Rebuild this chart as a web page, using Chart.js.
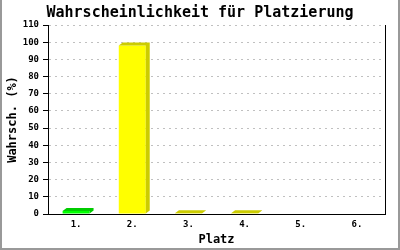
<!DOCTYPE html>
<html><head><meta charset="utf-8">
<script src="https://cdn.jsdelivr.net/npm/chart.js@4/dist/chart.umd.min.js"></script>
<style>html,body{margin:0;padding:0;background:#fff;overflow:hidden}</style>
</head><body>
<canvas id="c" width="400" height="250" style="display:block;width:400px;height:250px"></canvas>
<script>
const chartTitle = 'Wahrscheinlichkeit für Platzierung';
const xTitle = 'Platz';
const yTitle = 'Wahrsch. (%)';
const categories = ['1.', '2.', '3.', '4.', '5.', '6.'];
const probabilities = [1.8, 98, 0.4, 0.4, 0, 0];
const frontColors = ['#00ff00', '#ffff00', '#ffff00', '#ffff00', '#ffff00', '#ffff00'];
const depthColors = ['#00cc00', '#cccc00', '#cccc00', '#cccc00', '#cccc00', '#cccc00'];
const yMin = 0, yMax = 110, yStep = 10;

const MONO = '"DejaVu Sans Mono", "Liberation Mono", monospace';

const frame = {
  id: 'frame',
  beforeDraw(chart) {
    const ctx = chart.ctx;
    ctx.save();
    ctx.fillStyle = '#ffffff';
    ctx.fillRect(0, 0, chart.width, chart.height);
    ctx.restore();
  },
  afterDraw(chart) {
    const ctx = chart.ctx, a = chart.chartArea;
    ctx.save();
    // right plot edge
    ctx.strokeStyle = '#000';
    ctx.lineWidth = 1;
    ctx.beginPath();
    ctx.moveTo(Math.round(a.right) + 0.5, a.top);
    ctx.lineTo(Math.round(a.right) + 0.5, a.bottom + 0.5);
    ctx.stroke();
    // outer frame (left, right, bottom)
    ctx.strokeStyle = '#999999';
    ctx.lineWidth = 2;
    ctx.beginPath();
    ctx.moveTo(1, 0);
    ctx.lineTo(1, chart.height - 1);
    ctx.lineTo(chart.width - 1, chart.height - 1);
    ctx.lineTo(chart.width - 1, 0);
    ctx.stroke();
    // title
    ctx.fillStyle = '#000';
    ctx.font = 'bold 15px ' + MONO;
    ctx.textAlign = 'center';
    ctx.textBaseline = 'middle';
    ctx.fillText(chartTitle, chart.width / 2, 13);
    ctx.restore();
  }
};

const bars3d = {
  id: 'bars3d',
  afterDatasetsDraw(chart) {
    const ctx = chart.ctx;
    const meta = chart.getDatasetMeta(0);
    const dx = 4, dy = 3;
    ctx.save();
    meta.data.forEach((el, i) => {
      if (!(probabilities[i] > 0)) return;
      const p = el.getProps(['x', 'y', 'base', 'width'], true);
      const x0 = p.x - p.width / 2, x1 = p.x + p.width / 2;
      const yt = p.y, yb = p.base;
      ctx.fillStyle = depthColors[i];
      ctx.beginPath();
      ctx.moveTo(x0, yt);
      ctx.lineTo(x0 + dx, yt - dy);
      ctx.lineTo(x1 + dx, yt - dy);
      ctx.lineTo(x1 + dx, yb - dy);
      ctx.lineTo(x1, yb);
      ctx.lineTo(x1, yt);
      ctx.closePath();
      ctx.fill();
    });
    ctx.restore();
  }
};

new Chart(document.getElementById('c'), {
  type: 'bar',
  data: {
    labels: categories,
    datasets: [{
      data: probabilities,
      backgroundColor: frontColors,
      borderWidth: 0,
      categoryPercentage: 1,
      barPercentage: 0.48
    }]
  },
  options: {
    responsive: false,
    animation: false,
    devicePixelRatio: 1,
    layout: { autoPadding: false, padding: { left: 0, right: 15, top: 25, bottom: 0 } },
    plugins: {
      legend: { display: false },
      tooltip: { enabled: false },
      title: { display: false }
    },
    scales: {
      x: {
        grid: { display: false, drawTicks: false },
        border: { display: true, color: '#000', width: 1 },
        ticks: { color: '#000', font: { family: MONO, size: 9, weight: 'bold' }, padding: 5, maxRotation: 0 },
        title: {
          display: true, text: xTitle, color: '#000',
          font: { family: MONO, size: 12, weight: 'bold', lineHeight: 1.2 },
          padding: { top: 0, bottom: 3 }
        },
        afterFit(s) { s.height = 36; }
      },
      y: {
        min: yMin, max: yMax,
        ticks: { stepSize: yStep, color: '#000', font: { family: MONO, size: 9, weight: 'bold' }, padding: 4 },
        grid: {
          color: '#c0c0c0', lineWidth: 1, drawTicks: true, tickLength: 5,
          tickColor: '#000', tickBorderDash: [], tickWidth: 1
        },
        border: { display: true, color: '#000', width: 1, dash: [2, 4] },
        title: {
          display: true, text: yTitle, color: '#000',
          font: { family: MONO, size: 12, weight: 'bold', lineHeight: 1.2 },
          padding: { top: 6, bottom: 0 }
        },
        afterFit(s) { s.width = 48; }
      }
    }
  },
  plugins: [frame, bars3d]
});
</script>
</body></html>
